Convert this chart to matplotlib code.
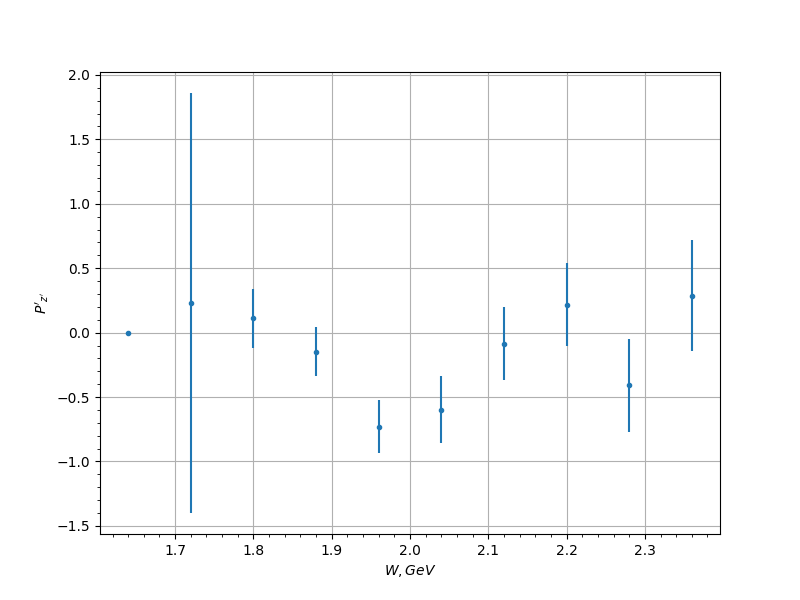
#!/usr/bin/env python3
"""Polarization P'_z' versus W."""

import matplotlib
matplotlib.use("Agg")
import matplotlib.pyplot as plt

w_gev = [1.64, 1.72, 1.80, 1.88, 1.96, 2.04, 2.12, 2.20, 2.28, 2.36]
p_z = [0.0, 0.23, 0.11, -0.147, -0.73, -0.60, -0.085, 0.218, -0.41, 0.288]
p_z_err = [0.0, 1.63, 0.23, 0.187, 0.205, 0.26, 0.285, 0.32, 0.358, 0.43]


def main():
    fig, ax = plt.subplots(figsize=(8, 6), dpi=100)
    ax.errorbar(w_gev, p_z, yerr=p_z_err, fmt=".")
    ax.minorticks_on()
    ax.grid(which="major")
    ax.set_xlabel("$W, GeV$")
    ax.set_ylabel("$P'_{z'}$")
    fig.savefig("out.png")


if __name__ == "__main__":
    main()
